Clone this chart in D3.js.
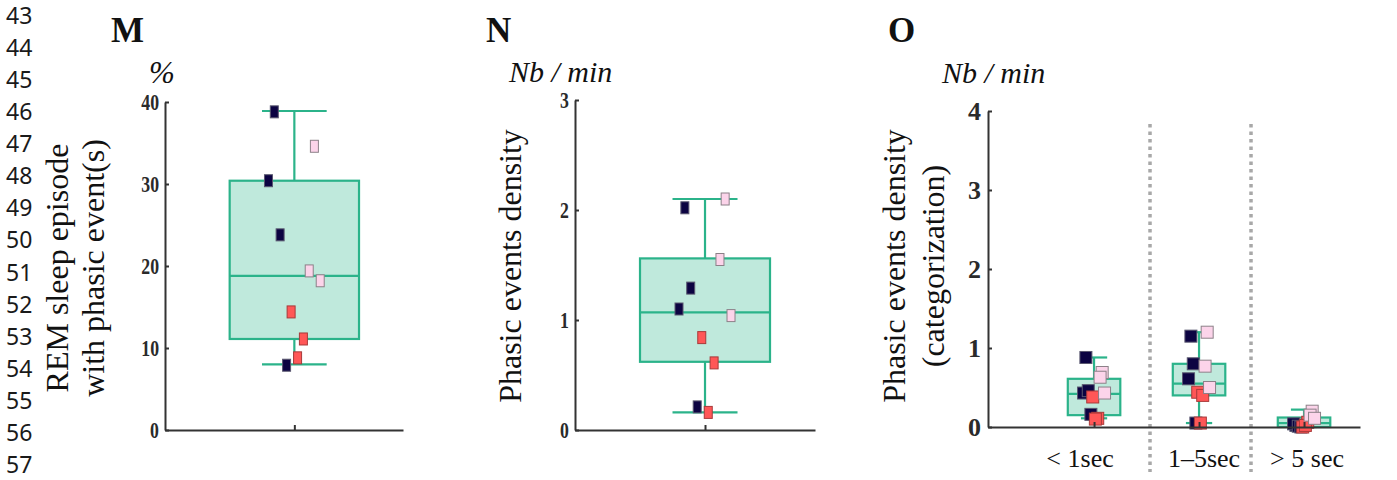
<!DOCTYPE html>
<html>
<head>
<meta charset="utf-8">
<script src="https://cdn.jsdelivr.net/npm/d3@7"></script>
<style>
	body { margin: 0; background: #fff; }
	svg { display: block; }
</style>
</head>
<body>
<svg width="1397" height="480"></svg>
<script>
// manuscript line numbers down the left margin
const lineNumbers = ["43", "44", "45", "46", "47", "48", "49", "50", "51", "52", "53", "54", "55", "56", "57"];

// M : REM sleep episodes with phasic event(s), %  (navy: 4 animals, red: 3, pink: 3)
const remNavy = [38.8, 30.4, 23.8, 7.9];
const remRed = [14.4, 11.1, 8.8];
const remPink = [34.6, 19.4, 18.2];
const remBox = [8.0, 11.1, 18.8, 30.4, 38.9];   // low whisker, q1, median, q3, high whisker
const remTicks = [0, 10, 20, 30, 40];

// N : phasic events density, Nb / min
const densNavy = [2.02, 1.10, 1.29, 0.21];
const densRed = [0.84, 0.61, 0.16];
const densPink = [2.10, 1.55, 1.04];
const densBox = [0.16, 0.62, 1.07, 1.56, 2.10];
const densTicks = [0, 1, 2, 3];

// O : phasic events density by duration category
const categories = ["< 1sec", "1–5sec", "> 5 sec"];
const catNavy = [[0.88, 0.43, 0.46, 0.16], [1.15, 0.61, 0.80, 0.05], [0.02, 0.04, 0.01, 0.0]];
const catRed = [[0.38, 0.11, 0.10], [0.44, 0.40, 0.05], [0.0, 0.06, 0.02]];
const catPink = [[0.69, 0.63, 0.43], [1.20, 0.77, 0.50], [0.20, 0.15, 0.11]];
const catBox = [[0.11, 0.15, 0.42, 0.61, 0.88], [0.05, 0.40, 0.55, 0.80, 1.20], [0.0, 0.0, 0.05, 0.12, 0.22]];
const catTicks = [0, 1, 2, 3, 4];

// horizontal spread of each animal's marker (in half box widths)
const jitterNavy = [-0.31, -0.40, -0.22, -0.12];
const jitterRed = [-0.05, 0.14, 0.05];
const jitterPink = [0.31, 0.23, 0.40];

const svg = d3.select("svg");
const serif = "'Liberation Serif', 'Times New Roman', Times, serif";

const boxStroke = "#2bb38a";
const boxFill = "#bfe9dc";
const groupStyle = {
	navy: { fill: "#0c0342", stroke: "#5a5870" },
	red: { fill: "#ff5757", stroke: "#a83a3a" },
	pink: { fill: "#fcd4ea", stroke: "#8c8088" }
};

// line numbers
svg.append("g")
	.selectAll("text")
	.data(lineNumbers)
	.enter()
	.append("text")
	.attr("x", 6)
	.attr("y", (d, i) => 24 + i * 32.07)
	.attr("font-family", "'Noto Sans', 'Open Sans', sans-serif")
	.attr("font-size", 23)
	.attr("fill", "#1a1a1a")
	.text(d => d);

function drawAxes(x, y, ticks, condensed, fontSize, padding) {
	const yAxis = d3.axisLeft(y)
		.tickValues(ticks)
		.tickFormat(d3.format("d"))
		.tickSizeInner(-4)
		.tickSizeOuter(0)
		.tickPadding(padding);
	const ga = svg.append("g")
		.attr("transform", `translate(${x.range()[0]},0)`)
		.call(yAxis);
	ga.selectAll("path, line").attr("stroke", "#333").attr("stroke-width", 2);
	const t = ga.selectAll("text")
		.attr("font-family", serif)
		.attr("font-weight", "bold")
		.attr("font-size", fontSize)
		.attr("fill", "#2a2a2a");
	if (condensed) {
		t.attr("transform", "scale(0.74,1)").attr("x", -padding / 0.74);
	}

	// x axis: plain baseline with the category ticks pointing up
	const xAxis = d3.axisBottom(x)
		.tickValues(d3.range(1, Math.floor(x.domain()[1]) + 1))
		.tickFormat("")
		.tickSizeInner(-5)
		.tickSizeOuter(0);
	const gx = svg.append("g")
		.attr("transform", `translate(0,${y.range()[0]})`)
		.call(xAxis);
	gx.selectAll("path, line").attr("stroke", "#333").attr("stroke-width", 2);
}

function drawBox(x, y, center, stats, halfW) {
	const [lo, q1, med, q3, hi] = stats;
	const g = svg.append("g").attr("stroke", boxStroke).attr("stroke-width", 2.2);
	const cx = x(center);
	const w = x(center + halfW) - cx;
	g.append("line").attr("x1", cx).attr("x2", cx).attr("y1", y(hi)).attr("y2", y(q3));
	g.append("line").attr("x1", cx).attr("x2", cx).attr("y1", y(q1)).attr("y2", y(lo));
	g.append("line").attr("x1", cx - w / 2).attr("x2", cx + w / 2).attr("y1", y(hi)).attr("y2", y(hi));
	g.append("line").attr("x1", cx - w / 2).attr("x2", cx + w / 2).attr("y1", y(lo)).attr("y2", y(lo));
	g.append("rect")
		.attr("x", cx - w).attr("width", 2 * w)
		.attr("y", y(q3)).attr("height", y(q1) - y(q3))
		.attr("fill", boxFill);
	g.append("line").attr("x1", cx - w).attr("x2", cx + w).attr("y1", y(med)).attr("y2", y(med));
}

function drawPoints(x, y, center, halfW, navy, red, pink, mw, mh) {
	const pts = [];
	navy.forEach((v, i) => pts.push({ v: v, j: jitterNavy[i], grp: "navy" }));
	red.forEach((v, i) => pts.push({ v: v, j: jitterRed[i], grp: "red" }));
	pink.forEach((v, i) => pts.push({ v: v, j: jitterPink[i], grp: "pink" }));
	svg.append("g")
		.selectAll("rect")
		.data(pts)
		.enter()
		.append("rect")
		.attr("x", d => x(center + d.j * halfW) - mw / 2)
		.attr("y", d => y(d.v) - mh / 2)
		.attr("width", mw)
		.attr("height", mh)
		.attr("fill", d => groupStyle[d.grp].fill)
		.attr("stroke", d => groupStyle[d.grp].stroke)
		.attr("stroke-width", 1);
}

function serifText(x, y, txt, size, opts = {}) {
	return svg.append("text")
		.attr("x", x)
		.attr("y", y)
		.attr("font-family", serif)
		.attr("font-size", size)
		.attr("font-weight", opts.bold ? "bold" : "normal")
		.attr("font-style", opts.italic ? "italic" : "normal")
		.attr("text-anchor", opts.anchor || "start")
		.attr("fill", "#111")
		.text(txt);
}

function yTitle(lines, cy, baselines, size) {
	lines.forEach((txt, i) => {
		svg.append("text")
			.attr("transform", `translate(${baselines[i]},${cy}) rotate(-90)`)
			.attr("font-family", serif)
			.attr("font-size", size)
			.attr("text-anchor", "middle")
			.attr("fill", "#111")
			.text(txt);
	});
}

// ---------- M ----------
const xM = d3.scaleLinear().domain([0, 1.84]).range([165, 403]);
const yM = d3.scaleLinear().domain([0, 40]).range([430, 102]);
drawBox(xM, yM, 1, remBox, 0.5);
drawPoints(xM, yM, 1, 0.5, remNavy, remRed, remPink, 8, 12);
drawAxes(xM, yM, remTicks, true, 24, 6);
serifText(111, 42, "M", 35, { bold: true });
serifText(149, 83, "%", 31, { italic: true });
yTitle(["REM sleep episode", "with phasic event(s)"], 268, [68, 104], 32);

// ---------- N ----------
const xN = d3.scaleLinear().domain([0, 1.846]).range([575, 815]);
const yN = d3.scaleLinear().domain([0, 3]).range([430, 100]);
drawBox(xN, yN, 1, densBox, 0.5);
drawPoints(xN, yN, 1, 0.5, densNavy, densRed, densPink, 8, 12);
drawAxes(xN, yN, densTicks, true, 24, 6);
serifText(486, 42, "N", 35, { bold: true });
serifText(509, 82, "Nb / min", 30, { italic: true });
yTitle(["Phasic events density"], 266, [521], 32);

// ---------- O ----------
const xO = d3.scaleLinear().domain([-0.01, 3.533]).range([988, 1360]);
const yO = d3.scaleLinear().domain([0, 4]).range([427, 111]);

// dotted separators between categories
svg.append("g")
	.selectAll("line")
	.data([1.533, 2.495])
	.enter()
	.append("line")
	.attr("x1", d => xO(d)).attr("x2", d => xO(d))
	.attr("y1", 124).attr("y2", 472)
	.attr("stroke", "#a8a8a8")
	.attr("stroke-width", 3.5)
	.attr("stroke-dasharray", "3.5,4");

categories.forEach((c, i) => {
	drawBox(xO, yO, i + 1, catBox[i], 0.25);
	drawPoints(xO, yO, i + 1, 0.25, catNavy[i], catRed[i], catPink[i], 12, 12);
});
drawAxes(xO, yO, catTicks, false, 26, 7);

// category labels (slightly off-centre in the original)
const labelShift = [-14, 5, 3];
categories.forEach((c, i) => {
	serifText(xO(i + 1) + labelShift[i], 467, c, 26, { anchor: "middle" });
});

serifText(888, 42, "O", 35, { bold: true });
serifText(942, 83, "Nb / min", 30, { italic: true });
yTitle(["Phasic events density", "(categorization)"], 266, [905, 944], 32);
</script>
</body>
</html>
